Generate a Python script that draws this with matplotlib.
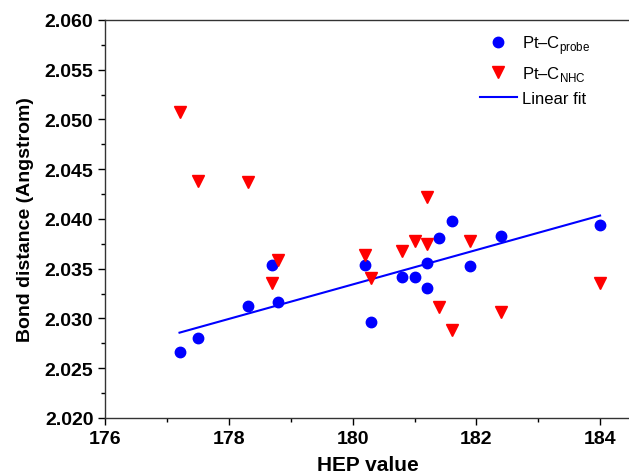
import numpy as np
import matplotlib.pyplot as plt

plt.rcParams['font.family'] = ['Liberation Sans', 'DejaVu Sans']
plt.rcParams['mathtext.fontset'] = 'custom'
plt.rcParams['mathtext.rm'] = 'Liberation Sans'

# HEP values of the complexes
hep = [177.2, 177.5, 178.3, 178.7, 178.8, 180.2, 180.3, 180.8,
       181.0, 181.2, 181.2, 181.4, 181.6, 181.9, 182.4, 184.0]
# Pt-C(probe) bond distances
pt_c_probe = [2.0266, 2.0280, 2.0313, 2.0354, 2.0317, 2.0354, 2.0296, 2.0342,
              2.0342, 2.0356, 2.0331, 2.0381, 2.0398, 2.0353, 2.0383, 2.0394]
# Pt-C(NHC) bond distances
pt_c_nhc = [2.0508, 2.0438, 2.0437, 2.0336, 2.0359, 2.0364, 2.0341, 2.0368,
            2.0378, 2.0375, 2.0422, 2.0312, 2.0288, 2.0378, 2.0307, 2.0336]

fig = plt.figure(figsize=(6.29, 4.77), dpi=100)
ax = fig.add_axes([0.1674, 0.1216, 0.8358, 0.8344])

ax.plot(hep, pt_c_probe, 'o', color='#0000ff', markersize=7.5, label=r'Pt–C$_\mathregular{probe}$', zorder=3)
ax.plot(hep, pt_c_nhc, 'v', color='#ff0000', markersize=8, label=r'Pt–C$_\mathregular{NHC}$', zorder=3)

# linear fit of the probe distances
slope, icpt = np.polyfit(hep, pt_c_probe, 1)
xf = np.array([min(hep), max(hep)])
ax.plot(xf, slope * xf + icpt, '-', color='#0000ff', lw=1.5, label='Linear fit', zorder=2)

ax.set_xlim(176, 184.5)
ax.set_ylim(2.020, 2.060)
ax.set_xticks([176, 178, 180, 182, 184])
ax.set_xticks([177, 179, 181, 183], minor=True)
ax.set_yticks(np.arange(2.020, 2.0601, 0.005))
ax.set_yticks(np.arange(2.0225, 2.060, 0.005), minor=True)
ax.yaxis.set_major_formatter(plt.FormatStrFormatter('%.3f'))

ax.tick_params(which='both', direction='out', width=1)
ax.tick_params(which='major', length=5, labelsize=14)
ax.tick_params(which='minor', length=3)
for lab in ax.get_xticklabels() + ax.get_yticklabels():
    lab.set_fontweight('bold')
ax.spines['right'].set_visible(False)
for sp in ax.spines.values():
    sp.set_linewidth(1)
    sp.set_color('#333333')

ax.set_xlabel('HEP value', fontsize=15, fontweight='bold', labelpad=6)
ax.set_ylabel('Bond distance (Angstrom)', fontsize=14, fontweight='bold', labelpad=8)

ax.legend(loc='upper right', bbox_to_anchor=(0.935, 0.985), frameon=False, fontsize=12,
          handlelength=2.2, handletextpad=0.3, labelspacing=0.5, borderaxespad=0)

plt.savefig('out.png', dpi=100)
plt.close()
